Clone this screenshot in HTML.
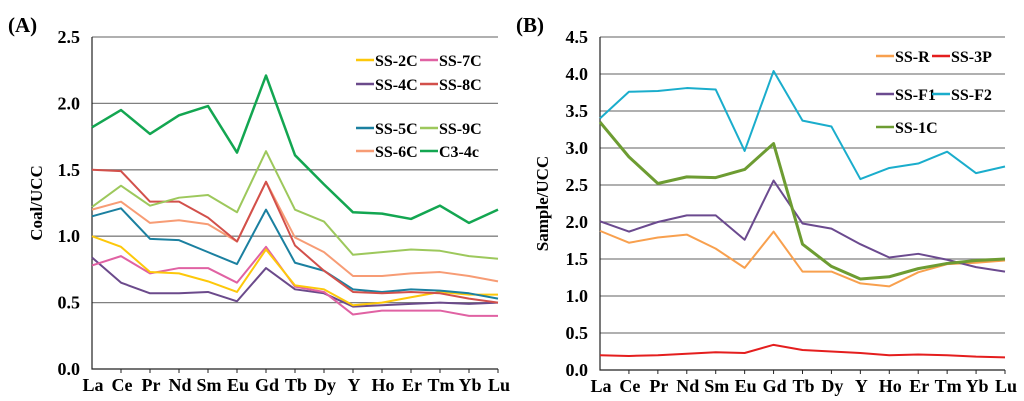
<!DOCTYPE html>
<html><head><meta charset="utf-8"><style>
body{margin:0;background:#fff;}
svg{display:block;font-family:"Liberation Serif",serif;font-weight:bold;}
</style></head><body>
<svg id="chart" width="1024" height="401" viewBox="0 0 1024 401"></svg>
<script>
const elements=["La","Ce","Pr","Nd","Sm","Eu","Gd","Tb","Dy","Y","Ho","Er","Tm","Yb","Lu"];
const ticksA=[0.0,0.5,1.0,1.5,2.0,2.5];
const ticksB=[0.0,0.5,1.0,1.5,2.0,2.5,3.0,3.5,4.0,4.5];
const namesA=["C3-4c","SS-9C","SS-8C","SS-6C","SS-5C","SS-2C","SS-7C","SS-4C"];
const c34c=[1.82,1.95,1.77,1.91,1.98,1.63,2.21,1.61,1.39,1.18,1.17,1.13,1.23,1.10,1.20];
const ss9c=[1.22,1.38,1.23,1.29,1.31,1.18,1.64,1.20,1.11,0.86,0.88,0.90,0.89,0.85,0.83];
const ss8c=[1.50,1.49,1.26,1.26,1.14,0.96,1.41,0.93,0.74,0.58,0.57,0.58,0.57,0.53,0.50];
const ss6c=[1.20,1.26,1.10,1.12,1.09,0.96,1.41,0.99,0.88,0.70,0.70,0.72,0.73,0.70,0.66];
const ss5c=[1.15,1.21,0.98,0.97,0.88,0.79,1.20,0.80,0.74,0.60,0.58,0.60,0.59,0.57,0.53];
const ss2c=[1.00,0.92,0.73,0.72,0.66,0.58,0.90,0.63,0.60,0.48,0.50,0.54,0.58,0.56,0.56];
const ss7c=[0.78,0.85,0.72,0.76,0.76,0.65,0.92,0.62,0.58,0.41,0.44,0.44,0.44,0.40,0.40];
const ss4c=[0.84,0.65,0.57,0.57,0.58,0.51,0.76,0.60,0.57,0.47,0.48,0.49,0.50,0.49,0.50];
const namesB=["SS-F2","SS-1C","SS-F1","SS-R","SS-3P"];
const ssf2=[3.40,3.76,3.77,3.81,3.79,2.96,4.04,3.37,3.29,2.58,2.73,2.79,2.95,2.66,2.75];
const ss1c=[3.35,2.88,2.52,2.61,2.60,2.71,3.06,1.70,1.40,1.23,1.26,1.37,1.44,1.48,1.50];
const ssf1=[2.01,1.87,2.00,2.09,2.09,1.76,2.56,1.98,1.91,1.70,1.52,1.57,1.49,1.39,1.33];
const ssr=[1.88,1.72,1.79,1.83,1.64,1.38,1.87,1.33,1.33,1.17,1.13,1.32,1.43,1.45,1.48];
const ss3p=[0.20,0.19,0.20,0.22,0.24,0.23,0.34,0.27,0.25,0.23,0.20,0.21,0.20,0.18,0.17];

const svg=document.getElementById('chart');
const NS="http://www.w3.org/2000/svg";
function mk(tag,attrs,parent){const e=document.createElementNS(NS,tag);for(const k in attrs)e.setAttribute(k,attrs[k]);(parent||svg).appendChild(e);return e;}
function txt(s,attrs,parent){const e=mk('text',attrs,parent);e.textContent=s;return e;}

function panel(cfg){
  const g=mk('g',{});
  
  
  const x=i=>cfg.x0+(cfg.x1-cfg.x0)*i/(elements.length-1);
  const y=v=>cfg.y0-(cfg.y0-cfg.yTop)*v/cfg.max;
  cfg.ticks.forEach(t=>{
    if(t>0){const l=mk('line',{x1:cfg.x0,x2:cfg.x1,y1:y(t),y2:y(t),stroke:'#808080','stroke-width':1.3},g);
      }
    const tl=txt(t.toFixed(1),{x:cfg.x0-12,y:y(t)+6,'text-anchor':'end','font-size':18},g);
    
  });
  const ax=mk('path',{d:`M${cfg.x0},${cfg.yTop} V${cfg.y0} H${cfg.x1}`,fill:'none',stroke:'#222','stroke-width':1.2},g);
  
  elements.forEach((e,i)=>{
    if(i>0) mk('line',{x1:x(i),x2:x(i),y1:cfg.y0,y2:cfg.y0+4,stroke:'#222'},g);
    const t=txt(e,{x:x(i)+1,y:cfg.y0+22,'text-anchor':'middle','font-size':18},g);
    
  });
  cfg.series.forEach(s=>{
    const p=mk('polyline',{points:s.v.map((v,i)=>x(i)+','+y(v)).join(' '),fill:'none',stroke:s.c,'stroke-width':s.w||2,'stroke-linejoin':'round'},g);
    
    
  });
  cfg.legend.forEach(L=>{
    const lg=mk('g',{},g);
    
    
    mk('line',{x1:L.x,x2:L.x+18,y1:L.y,y2:L.y,stroke:L.c,'stroke-width':2.5},lg);
    txt(L.n,{x:L.x+19,y:L.y+6,'font-size':16},lg);
  });
  const yt=txt(cfg.ytitle,{transform:`translate(${cfg.tx},${(cfg.y0+cfg.yTop)/2}) rotate(-90)`,'text-anchor':'middle','font-size':17},g);
  
  const pl=txt(cfg.label,{x:cfg.lx,y:32,'font-size':21},g);
  
}
const cA={"C3-4c":"#13a651","SS-9C":"#9dc85c","SS-8C":"#d2504b","SS-6C":"#f79c75","SS-5C":"#1b80a0","SS-2C":"#fdc80a","SS-7C":"#e062a3","SS-4C":"#6b4a8b"};
const vA=[c34c,ss9c,ss8c,ss6c,ss5c,ss2c,ss7c,ss4c];
panel({id:'panel-a',x0:92,x1:498,y0:369,yTop:37,max:2.5,ticks:ticksA,ytitle:'Coal/UCC',tx:42,label:'(A)',lx:8,
  series:namesA.map((n,i)=>({n:n,v:vA[i],c:cA[n],w:n==="C3-4c"?2.5:2})).reverse(),
  legend:[{n:'SS-2C',x:356,y:60,c:cA['SS-2C']},{n:'SS-7C',x:420,y:60,c:cA['SS-7C']},
          {n:'SS-4C',x:356,y:84,c:cA['SS-4C']},{n:'SS-8C',x:420,y:84,c:cA['SS-8C']},
          {n:'SS-5C',x:356,y:128,c:cA['SS-5C']},{n:'SS-9C',x:420,y:128,c:cA['SS-9C']},
          {n:'SS-6C',x:356,y:151,c:cA['SS-6C']},{n:'C3-4c',x:420,y:151,c:cA['C3-4c']}]});
const cB={"SS-F2":"#1aadcc","SS-1C":"#6d9c32","SS-F1":"#6b4a8f","SS-R":"#f8a04e","SS-3P":"#e41e1e"};
const vB=[ssf2,ss1c,ssf1,ssr,ss3p];
panel({id:'panel-b',x0:600,x1:1005,y0:370,yTop:37,max:4.5,ticks:ticksB,ytitle:'Sample/UCC',tx:548,label:'(B)',lx:516,
  series:namesB.map((n,i)=>({n:n,v:vB[i],c:cB[n],w:n==="SS-1C"?3:2})).reverse(),
  legend:[{n:'SS-R',x:876,y:56,c:cB['SS-R']},{n:'SS-3P',x:932,y:56,c:cB['SS-3P']},
          {n:'SS-F1',x:876,y:94,c:cB['SS-F1']},{n:'SS-F2',x:932,y:94,c:cB['SS-F2']},
          {n:'SS-1C',x:876,y:127,c:cB['SS-1C']}]});
</script>
</body></html>
